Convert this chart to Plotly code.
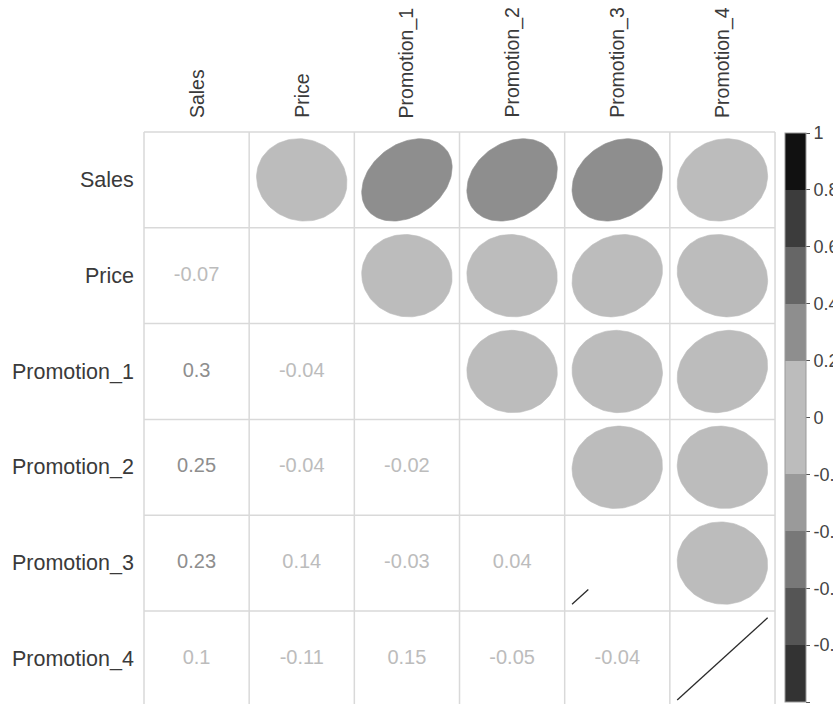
import numpy as np
import plotly.graph_objects as go

# ---------------- data ----------------
variables = ["Sales", "Price", "Promotion_1", "Promotion_2", "Promotion_3", "Promotion_4"]
# lower-triangle correlations, row by row
corr_price = [-0.07]
corr_promo1 = [0.3, -0.04]
corr_promo2 = [0.25, -0.04, -0.02]
corr_promo3 = [0.23, 0.14, -0.03, 0.04]
corr_promo4 = [0.1, -0.11, 0.15, -0.05, -0.04]
lower_rows = [[], corr_price, corr_promo1, corr_promo2, corr_promo3, corr_promo4]
# visible share of the diagonal (r = 1) glyph, as drawn in the picture
diag_visible = [0.0, 0.0, 0.0, 0.0, 0.18, 1.0]

cbar_tickvals = [-1, -0.8, -0.6, -0.4, -0.2, 0, 0.2, 0.4, 0.6, 0.8, 1]
cbar_ticktext = ["-1", "-0.8", "-0.6", "-0.4", "-0.2", "0", "0.2", "0.4", "0.6", "0.8", "1"]

# ---------------- style ----------------
band_edges = [-1, -0.8, -0.6, -0.4, -0.2, 0, 0.2, 0.4, 0.6, 0.8, 1]
band_colors = ["#333333", "#555555", "#787878", "#9a9a9a", "#bcbcbc",
               "#bcbcbc", "#8e8e8e", "#666666", "#3c3c3c", "#111111"]
FONT = "Liberation Sans, Arial, sans-serif"
W, H = 833, 704
GRID_L, GRID_T = 144.0, 132.0
CELL_W, CELL_H = 105.17, 95.8
ELL_S = 0.43

n = len(variables)
M = np.eye(n)
for i, row in enumerate(lower_rows):
    for j, v in enumerate(row):
        M[i, j] = v
        M[j, i] = v


def band_color(v):
    for k in range(len(band_colors)):
        if v <= band_edges[k + 1] or k == len(band_colors) - 1:
            return band_colors[k]


def cx(j):
    return j


def cy(i):
    return -i


fig = go.Figure()

# ellipses (upper triangle)
k = np.linspace(0, 2 * np.pi, 120)
for i in range(n):
    for j in range(i + 1, n):
        r = M[i, j]
        a = np.arccos(r) / 2
        xs = cx(j) + ELL_S * np.cos(k + a)
        ys = cy(i) + ELL_S * np.cos(k - a)
        col = band_color(r)
        fig.add_trace(go.Scatter(x=xs, y=ys, mode="lines", fill="toself",
                                 fillcolor=col, line=dict(color=col, width=0.6),
                                 hoverinfo="skip", showlegend=False))

# diagonal glyphs (r = 1 -> a line)
for i in range(n):
    f = diag_visible[i]
    if f <= 0:
        continue
    x0, y0 = cx(i) - ELL_S, cy(i) - ELL_S
    x1 = x0 + 2 * ELL_S * f
    y1 = y0 + 2 * ELL_S * f
    fig.add_trace(go.Scatter(x=[x0, x1], y=[y0, y1], mode="lines",
                             line=dict(color="#2a2a2a", width=1.3),
                             hoverinfo="skip", showlegend=False))

# numbers (lower triangle)
tx, ty, tt, tc = [], [], [], []
for i, row in enumerate(lower_rows):
    for j, v in enumerate(row):
        tx.append(cx(j))
        ty.append(cy(i))
        tt.append(f"{v:g}")
        tc.append(band_color(v))
fig.add_trace(go.Scatter(x=tx, y=ty, text=tt, mode="text",
                         textfont=dict(family=FONT, size=20, color=tc),
                         hoverinfo="skip", showlegend=False))

# grid lines
for j in range(n + 1):
    fig.add_shape(type="line", x0=j - 0.5, x1=j - 0.5, y0=0.5, y1=-(n - 0.5),
                  line=dict(color="#d9d9d9", width=1.5), layer="below")
for i in range(n + 1):
    fig.add_shape(type="line", x0=-0.5, x1=n - 0.5, y0=0.5 - i, y1=0.5 - i,
                  line=dict(color="#d9d9d9", width=1.5), layer="below")

# labels
for i, name in enumerate(variables):
    fig.add_annotation(x=-0.5 - 8 / CELL_W, y=cy(i), text=name, showarrow=False,
                       xanchor="right", yanchor="middle",
                       font=dict(family=FONT, size=21.5, color="#3a3a3a"))
    fig.add_annotation(x=cx(i), y=0.5 + 12 / CELL_H, text=name, showarrow=False,
                       textangle=-90, xanchor="center", yanchor="bottom",
                       font=dict(family=FONT, size=19.5, color="#3a3a3a"))

# colour bar
cscale = []
for b, c in enumerate(band_colors):
    cscale.append([b / len(band_colors), c])
    cscale.append([(b + 1) / len(band_colors), c])
fig.add_trace(go.Scatter(
    x=[cx(0)], y=[cy(0)], mode="markers", hoverinfo="skip", showlegend=False,
    marker=dict(size=0.1, color=[0], colorscale=cscale, cmin=-1, cmax=1,
                showscale=True,
                colorbar=dict(
                    x=785 / W, xanchor="left", xpad=0, ypad=0,
                    y=1 - 133 / H, yanchor="top",
                    len=569, lenmode="pixels",
                    thickness=21, thicknessmode="pixels",
                    outlinecolor="#9a9a9a", outlinewidth=1,
                    tickvals=cbar_tickvals, ticktext=cbar_ticktext,
                    ticks="outside", ticklen=4, tickcolor="#555555",
                    tickfont=dict(family=FONT, size=18, color="#444444"),
                ))))

fig.update_layout(
    width=W, height=H, margin=dict(l=0, r=0, t=0, b=0, autoexpand=False),
    paper_bgcolor="white", plot_bgcolor="white",
    xaxis=dict(range=[-0.5 - GRID_L / CELL_W, -0.5 + (W - GRID_L) / CELL_W],
               visible=False, fixedrange=True),
    yaxis=dict(range=[0.5 - (H - GRID_T) / CELL_H, 0.5 + GRID_T / CELL_H],
               visible=False, fixedrange=True),
)

fig.write_html("out.html")
